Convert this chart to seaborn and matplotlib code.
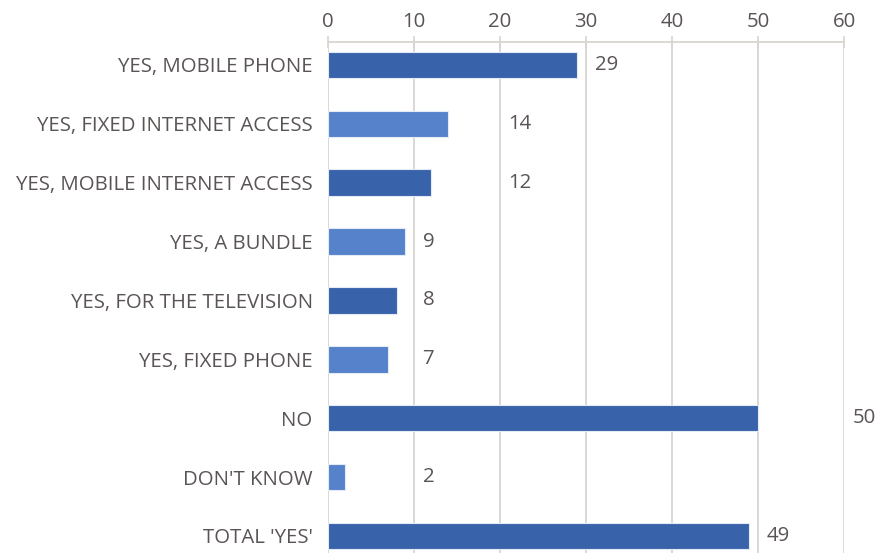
import matplotlib
matplotlib.use("Agg")
import matplotlib.pyplot as plt
import seaborn as sns
import pandas as pd

categories = ["YES, MOBILE PHONE", "YES, FIXED INTERNET ACCESS", "YES, MOBILE INTERNET ACCESS",
              "YES, A BUNDLE", "YES, FOR THE TELEVISION", "YES, FIXED PHONE", "NO",
              "DON'T KNOW", "TOTAL 'YES'"]
values = [29, 14, 12, 9, 8, 7, 50, 2, 49]
x_ticks = [0, 10, 20, 30, 40, 50, 60]

dark = "#3862AA"
light = "#5682CB"
colors = [dark if i % 2 == 0 else light for i in range(len(categories))]

sns.set_theme(style="white")
plt.rcParams["font.family"] = ["Open Sans", "DejaVu Sans"]
text_col = "#5A5454"
grid_col = "#D9D4D0"
fs = 14.7

df = pd.DataFrame({"cat": categories, "val": values})

fig = plt.figure(figsize=(8.75, 5.53), dpi=100)
ax = fig.add_axes([328 / 875, 0.0, (844 - 328) / 875, 1 - 42 / 553])

sns.barplot(data=df, x="val", y="cat", hue="cat", palette=colors, legend=False,
            saturation=1, width=0.45, edgecolor="#E3EAF5", linewidth=0.8, ax=ax, zorder=3)

ax.set_xlim(0, 60)
ax.set_ylim(8.29, -0.39)
ax.set_xticks(x_ticks)
ax.xaxis.tick_top()
ax.tick_params(axis="x", which="both", top=True, bottom=False, direction="inout",
               length=8, width=1.2, color=grid_col, labelsize=fs, labelcolor=text_col, pad=3)
ax.tick_params(axis="y", left=False, labelsize=fs, labelcolor=text_col, pad=5)
ax.set_xlabel("")
ax.set_ylabel("")
ax.grid(axis="x", color=grid_col, linewidth=1.3, zorder=0)
ax.set_axisbelow(True)
for s in ["left", "right", "bottom"]:
    ax.spines[s].set_visible(False)
ax.spines["top"].set_color(grid_col)
ax.spines["top"].set_linewidth(1.3)

for i, v in enumerate(values):
    lx = (v // 10 + 1) * 10 + 1.0
    ax.text(lx, i, str(v), ha="left", va="center", fontsize=fs, color=text_col)

fig.savefig("out.png", dpi=100)
